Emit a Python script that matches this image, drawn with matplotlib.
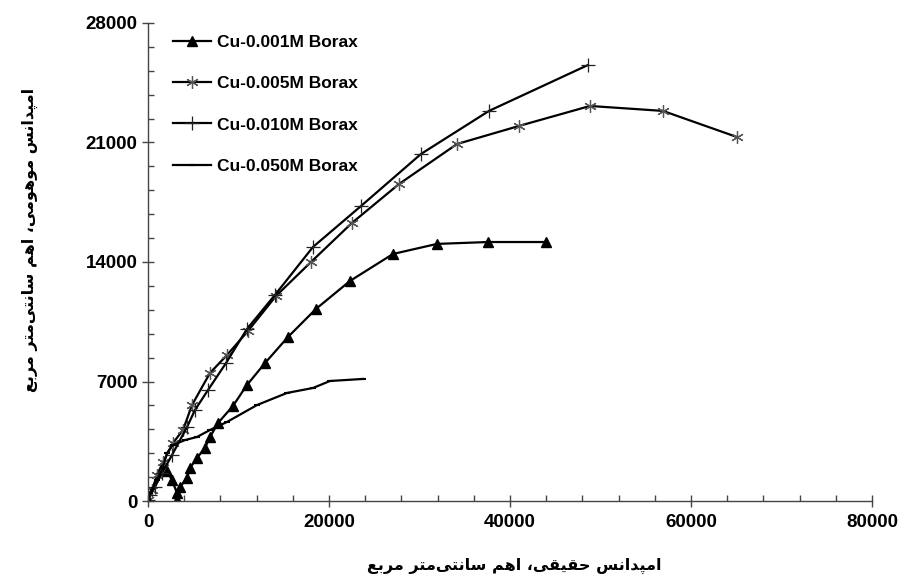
import matplotlib
matplotlib.use("Agg")
import matplotlib.pyplot as plt
from matplotlib.ticker import MultipleLocator

# ---------------- data ----------------
x_001 = [2100, 2650, 3200, 3200, 3540, 4310, 4640, 5410, 6300, 6850, 7740, 9390,
         10940, 12930, 15470, 18560, 22320, 27070, 31930, 37570, 43980]
y_001 = [1760, 1230, 470, 60, 820, 1350, 1930, 2520, 3110, 3750, 4570, 5570,
         6800, 8080, 9610, 11250, 12890, 14470, 15060, 15170, 15170]

x_005 = [0, 440, 1000, 1660, 2760, 3870, 4860, 6850, 8730, 11050, 14140, 18010,
         22540, 27740, 34140, 41000, 48840, 56900, 65080]
y_005 = [60, 640, 1520, 2280, 3400, 4160, 5620, 7500, 8550, 9960, 12010, 14000,
         16290, 18570, 20910, 21970, 23140, 22850, 21320]

x_010 = [0, 220, 770, 1550, 2650, 4310, 5190, 6630, 8620, 10940, 14030, 18230,
         23540, 30170, 37680, 48620]
y_010 = [60, 350, 820, 1640, 2690, 4330, 5330, 6500, 8080, 10080, 12070, 14880,
         17280, 20330, 22850, 25540]

x_050 = [0, 200, 995, 1660, 2100, 2760, 4090, 5410, 6850, 8730, 12040, 15360,
         18230, 20110, 23760]
y_050 = [60, 470, 1230, 1990, 2810, 3280, 3570, 3750, 4160, 4630, 5620, 6330,
         6620, 7030, 7150]

labels = ["Cu-0.001M Borax", "Cu-0.005M Borax", "Cu-0.010M Borax", "Cu-0.050M Borax"]
x_ticks = [0, 20000, 40000, 60000, 80000]
y_ticks = [0, 7000, 14000, 21000, 28000]
x_label = "امپدانس حقیقی، اهم سانتی‌متر مربع"
y_label = "امپدانس موهومی، اهم سانتی‌متر مربع"

# ------------- simple Arabic/Persian shaping (matplotlib has no text shaping) -------------
FORMS = {
    "ا": ("\uFE8D", "\uFE8E", None, None),
    "د": ("\uFEA9", "\uFEAA", None, None),
    "ر": ("\uFEAD", "\uFEAE", None, None),
    "و": ("\uFEED", "\uFEEE", None, None),
    "م": ("\uFEE1", "\uFEE2", "\uFEE3", "\uFEE4"),
    "پ": ("\uFB56", "\uFB57", "\uFB58", "\uFB59"),
    "ن": ("\uFEE5", "\uFEE6", "\uFEE7", "\uFEE8"),
    "س": ("\uFEB1", "\uFEB2", "\uFEB3", "\uFEB4"),
    "ح": ("\uFEA1", "\uFEA2", "\uFEA3", "\uFEA4"),
    "ق": ("\uFED5", "\uFED6", "\uFED7", "\uFED8"),
    "ی": ("\uFBFC", "\uFBFD", "\uFBFE", "\uFBFF"),
    "ه": ("\uFEE9", "\uFEEA", "\uFEEB", "\uFEEC"),
    "ت": ("\uFE95", "\uFE96", "\uFE97", "\uFE98"),
    "ب": ("\uFE8F", "\uFE90", "\uFE91", "\uFE92"),
    "ع": ("\uFEC9", "\uFECA", "\uFECB", "\uFECC"),
}


def shape(text):
    out = []
    n = len(text)
    for i, c in enumerate(text):
        if c == "\u200c":
            continue
        if c not in FORMS:
            out.append(c)
            continue
        iso, fin, ini, med = FORMS[c]
        dual = ini is not None
        prev = text[i - 1] if i > 0 else ""
        nxt = text[i + 1] if i + 1 < n else ""
        pj = prev in FORMS and FORMS[prev][2] is not None
        nj = dual and nxt in FORMS
        if pj and nj:
            out.append(med)
        elif pj:
            out.append(fin)
        elif nj:
            out.append(ini)
        else:
            out.append(iso)
    return "".join(reversed(out))


# ---------------- figure ----------------
fig = plt.figure(figsize=(9.01, 5.84), dpi=100)
ax = fig.add_axes([148 / 901, 83 / 584, 724 / 901, 478 / 584])

lw = 1.6
ax.plot(x_001, y_001, color="black", lw=lw, marker="^", ms=6.5, mfc="black", mec="black",
        label=labels[0])
ax.plot(x_005, y_005, color="black", lw=lw, marker=(6, 2, 0), ms=9, mec="#555555", mew=0.9,
        label=labels[1])
ax.plot(x_010, y_010, color="black", lw=lw, marker="+", ms=10, mec="#222222", mew=0.9,
        label=labels[2])
ax.plot(x_050, y_050, color="black", lw=lw, marker="_", ms=5, mec="black", mew=1.5,
        label=labels[3])

ax.set_xlim(0, 80000)
ax.set_ylim(0, 28000)
ax.set_xticks(x_ticks)
ax.set_yticks(y_ticks)
ax.set_xticklabels([str(v) for v in x_ticks])
ax.set_yticklabels([str(v) for v in y_ticks])
ax.xaxis.set_minor_locator(MultipleLocator(4000))
ax.yaxis.set_minor_locator(MultipleLocator(1400))

for s in ["top", "right"]:
    ax.spines[s].set_visible(False)
for s in ["left", "bottom"]:
    ax.spines[s].set_color("#444444")
    ax.spines[s].set_linewidth(1.0)

ax.tick_params(which="major", direction="inout", length=9, width=1, color="#444444")
ax.tick_params(which="minor", direction="in", length=4.5, width=1, color="#444444")
ax.tick_params(axis="x", which="major", pad=5)
ax.tick_params(axis="y", which="major", pad=3)
for lab in ax.get_xticklabels() + ax.get_yticklabels():
    lab.set_fontfamily("Liberation Sans")
    lab.set_fontweight("bold")
    lab.set_fontsize(13.5)

leg = ax.legend(loc="upper left", bbox_to_anchor=(173 / 901, 1 - 35 / 584),
                bbox_transform=fig.transFigure, frameon=False,
                prop={"family": "Liberation Sans", "weight": "bold", "size": 12.5},
                handlelength=2.2, handletextpad=0.35, labelspacing=1.5,
                borderpad=0, borderaxespad=0)

fig.text(514 / 901, 1 - 566 / 584, shape(x_label), ha="center", va="center",
         fontsize=11.5, fontweight="bold", family=["DejaVu Sans"])
fig.text(30 / 901, 1 - 240 / 584, shape(y_label), ha="center", va="center",
         rotation=90, fontsize=11.5, fontweight="bold", family=["DejaVu Sans"])

fig.savefig("out.png", dpi=100)
